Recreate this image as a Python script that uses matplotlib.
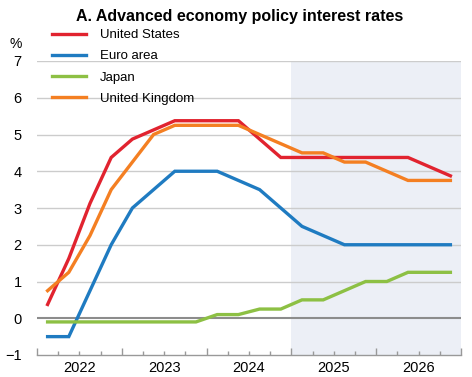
import matplotlib
matplotlib.use("Agg")
import matplotlib.pyplot as plt
import numpy as np

plt.rcParams['font.family'] = ['Liberation Sans', 'DejaVu Sans']

quarters = ["2022Q1", "2022Q2", "2022Q3", "2022Q4",
            "2023Q1", "2023Q2", "2023Q3", "2023Q4",
            "2024Q1", "2024Q2", "2024Q3", "2024Q4",
            "2025Q1", "2025Q2", "2025Q3", "2025Q4",
            "2026Q1", "2026Q2", "2026Q3", "2026Q4"]
us = [0.375, 1.625, 3.125, 4.375, 4.875, 5.125, 5.375, 5.375, 5.375, 5.375, 4.875, 4.375,
      4.375, 4.375, 4.375, 4.375, 4.375, 4.375, 4.125, 3.875]
euro = [-0.5, -0.5, 0.75, 2.0, 3.0, 3.5, 4.0, 4.0, 4.0, 3.75, 3.5, 3.0,
        2.5, 2.25, 2.0, 2.0, 2.0, 2.0, 2.0, 2.0]
japan = [-0.1, -0.1, -0.1, -0.1, -0.1, -0.1, -0.1, -0.1, 0.1, 0.1, 0.25, 0.25,
         0.5, 0.5, 0.75, 1.0, 1.0, 1.25, 1.25, 1.25]
uk = [0.75, 1.25, 2.25, 3.5, 4.25, 5.0, 5.25, 5.25, 5.25, 5.25, 5.0, 4.75,
      4.5, 4.5, 4.25, 4.25, 4.0, 3.75, 3.75, 3.75]
series_names = ["United States", "Euro area", "Japan", "United Kingdom"]
colors = ["#E1232F", "#1F7BC1", "#8DC044", "#F47F22"]
years = [2022, 2023, 2024, 2025, 2026]
forecast_start = 2025

x = np.array([int(q[:4]) + (int(q[-1]) - 0.5) / 4 for q in quarters])

fig = plt.figure(figsize=(4.72, 3.77), dpi=100)
ax = fig.add_axes([37/472, 1-355/377, 424/472, 294/377])

ax.axvspan(forecast_start, years[-1] + 1, color="#ECEFF6", zorder=0, lw=0)
for yv in range(1, 8):
    ax.axhline(yv, color="#CCCCCC", lw=1.0, zorder=1)
ax.axhline(0, color="#8C8C8C", lw=1.5, zorder=1)

for vals, name, c in zip([us, euro, japan, uk], series_names, colors):
    ax.plot(x, vals, color=c, lw=2.4, label=name, zorder=3, solid_joinstyle='miter')

ax.set_xlim(years[0], years[-1] + 1)
ax.set_ylim(-1, 7)
ax.set_yticks(range(-1, 8))
ax.tick_params(axis='y', length=0, pad=11, labelsize=10.5)

ax.set_xticks([y for y in years] + [years[-1] + 1])
ax.set_xticklabels([])
minor = []
minor_labels = []
for y in years:
    for q in range(1, 4):
        minor.append(y + q / 4)
        minor_labels.append(str(y) if q == 2 else "")
ax.set_xticks(minor, minor=True)
ax.set_xticklabels(minor_labels, minor=True)
ax.tick_params(axis='x', which='major', direction='in', length=5, color="#999999", width=1)
ax.tick_params(axis='x', which='minor', direction='in', length=3, color="#999999", width=1,
               labelsize=10.5, pad=4)

for s in ['top', 'right', 'left']:
    ax.spines[s].set_visible(False)
ax.spines['bottom'].set_color("#999999")
ax.spines['bottom'].set_linewidth(1)

fig.text(240/472, 1-17/377, "A. Advanced economy policy interest rates", ha='center', va='center',
         fontsize=11.5, fontweight='bold')
fig.text(16/472, 1-44/377, "%", ha='center', va='center', fontsize=10)

fig.legend(loc='upper left', bbox_to_anchor=(52/472, 1-29/377), frameon=False, fontsize=9.5,
           handlelength=2.6, handletextpad=1.05, labelspacing=0.68, borderpad=0, borderaxespad=0)

fig.savefig("out.png", dpi=100)
